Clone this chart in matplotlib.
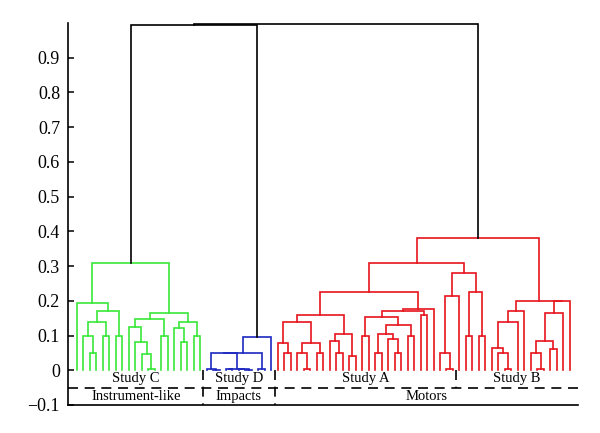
import matplotlib
matplotlib.use("Agg")
import matplotlib.pyplot as plt

plt.rcParams['font.family'] = ['Liberation Serif', 'DejaVu Serif']

# ======================
# Data: dendrogram trees, node = (height, left, right), None = leaf
# ======================
L = None

green_tree = (0.31,
              (0.195, L,
               (0.172,
                (0.138, (0.10, L, (0.05, L, L)), (0.10, L, L)),
                (0.10, L, L))),
              (0.165,
               (0.148, (0.125, L, (0.08, L, (0.048, L, (0.004, L, L)))), (0.10, L, L)),
               (0.14, (0.122, L, (0.08, L, L)), (0.10, L, L))))

blue_tree = (0.095,
             (0.05,
              (0.049, (0.004, L, (0.002, L, L)),
               (0.005, (0.003, L, L), (0.004, L, (0.002, L, L)))),
              (0.004, L, L)),
             L)

red_tree = (0.38,
            (0.31,
             (0.225,
              (0.158,
               (0.138, (0.078, L, (0.05, L, L)),
                (0.078, (0.05, L, (0.004, L, L)), (0.05, L, L))),
               (0.105, (0.085, L, (0.05, L, L)), (0.04, L, L))),
              (0.175,
               (0.17,
                (0.152, (0.10, L, L),
                 (0.13, (0.105, (0.05, L, L), (0.09, L, (0.05, L, L))), (0.10, L, L))),
                (0.16, L, L)),
               L)),
             (0.28,
              (0.215, (0.05, L, (0.004, L, L)), L),
              (0.225, (0.10, L, L), (0.10, L, L)))),
            (0.20,
             (0.172, (0.138, (0.065, L, (0.05, L, (0.004, L, L))), L), L),
             (0.198, (0.165, (0.085, (0.05, L, (0.004, L, L)), (0.06, L, L)), L), L)))

cluster_trees = [green_tree, blue_tree, red_tree]
cluster_colors = ['#38e838', '#1c28c0', '#e8141c']
top_heights = [0.995, 0.998]   # green+blue, then +red

study_names = ["Study C", "Study D", "Study A", "Study B"]
study_sizes = [20, 11, 28, 18]
group_names = ["Instrument-like", "Impacts", "Motors"]
group_sizes = [20, 11, 46]

yticks = [-0.1, 0, 0.1, 0.2, 0.3, 0.4, 0.5, 0.6, 0.7, 0.8, 0.9]
ytick_labels = ["\u22120.1", "0", "0.1", "0.2", "0.3", "0.4", "0.5", "0.6", "0.7", "0.8", "0.9"]

LW = 1.2


def link(ax, xl, hl, xr, hr, h, color):
    ax.plot([xl, xl, xr, xr], [hl, h, h, hr], color=color, lw=LW,
            solid_joinstyle='miter', clip_on=False)


def draw(ax, node, color, counter):
    if node is None:
        x = counter[0]
        counter[0] += 1
        return x, 0.0
    h, left, right = node
    xl, hl = draw(ax, left, color, counter)
    xr, hr = draw(ax, right, color, counter)
    link(ax, xl, hl, xr, hr, h, color)
    return (xl + xr) / 2.0, h


fig = plt.figure(figsize=(6, 4.33), dpi=100)
ax = fig.add_axes([0.114, 0.0647, 0.849, 0.8823])

counter = [0]
tops = []
for tree, col in zip(cluster_trees, cluster_colors):
    tops.append(draw(ax, tree, col, counter))
n_leaves = counter[0]

# black links above the clusters
x0, h0 = tops[0]
for (xc, hc), h in zip(tops[1:], top_heights):
    link(ax, x0, h0, xc, hc, h, 'black')
    x0, h0 = (x0 + xc) / 2.0, h

xmin, xmax = -1.3, n_leaves - 1 + 1.25
ax.set_xlim(xmin, xmax)
ax.set_ylim(-0.1, 1.0)

# study / group annotation rows
dash = (0, (6, 4))
ax.plot([xmin, xmax], [-0.05, -0.05], color='black', lw=1.2, linestyle=dash)

study_edges = [0]
for s in study_sizes:
    study_edges.append(study_edges[-1] + s)
group_edges = [0]
for g in group_sizes:
    group_edges.append(group_edges[-1] + g)

for e in study_edges[1:-1]:
    xs = e - 0.5
    ybot = -0.1 if e in group_edges else -0.05
    ax.plot([xs, xs], [0, ybot], color='black', lw=1.2, linestyle=dash)

def bounds(edges, i):
    a = xmin if i == 0 else edges[i] - 0.5
    b = xmax if i == len(edges) - 2 else edges[i + 1] - 0.5
    return a, b

for i, name in enumerate(study_names):
    a, b = bounds(study_edges, i)
    ax.text((a + b) / 2, -0.025, name, ha='center', va='center', fontsize=10.5)

for i, name in enumerate(group_names):
    a, b = bounds(group_edges, i)
    ax.text((a + b) / 2, -0.076, name, ha='center', va='center', fontsize=10.5)

ax.set_yticks(yticks)
ax.set_yticklabels(ytick_labels, fontsize=13)
ax.set_xticks([])
ax.tick_params(axis='y', direction='in', length=4, width=1.1, pad=6)
for side in ['top', 'right']:
    ax.spines[side].set_visible(False)
for side in ['left', 'bottom']:
    ax.spines[side].set_linewidth(1.2)

fig.savefig("out.png", dpi=100)
